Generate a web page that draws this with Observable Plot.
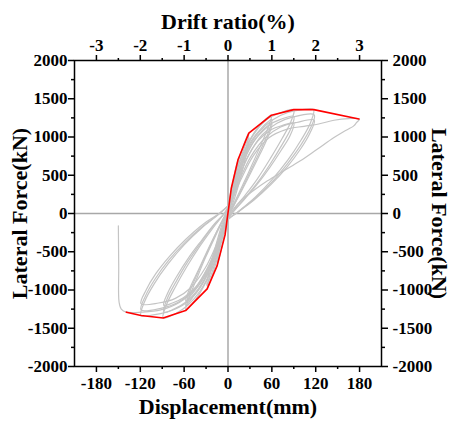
<!DOCTYPE html>
<html>
<head>
<meta charset="utf-8">
<script src="https://cdn.jsdelivr.net/npm/d3@7"></script>
<script src="https://cdn.jsdelivr.net/npm/@observablehq/plot@0.6"></script>
<style>
  html, body { margin: 0; padding: 0; background: #fff; }
</style>
</head>
<body>
<div id="chart"></div>
<script>
// Tick values / labels
const displacementTicks = [-180, -120, -60, 0, 60, 120, 180];
const displacementMinor = [-150, -90, -30, 30, 90, 150];
const driftTicks = [-3, -2, -1, 0, 1, 2, 3];
const mmPerPercent = 60;
const forceTicks = [-2000, -1500, -1000, -500, 0, 500, 1000, 1500, 2000];
const forceMinor = [-1750, -1250, -750, -250, 250, 750, 1250, 1750];
const titles = ["Drift ratio(%)", "Displacement(mm)", "Lateral Force(kN)"];

// Skeleton (envelope) curve
const skeletonDisp  = [-139, -119, -88.7, -58, -28.5, -14.8, -4, 4.5, 13.9, 28.5, 59.5, 89.9, 117.4, 179];
const skeletonForce = [-1290, -1334, -1365, -1269, -986, -682, -280, 330, 710, 1050, 1285, 1358, 1358, 1235];

// Hysteresis cycles [displacement mm, force kN]
const cycleA = [[0,0],[2,170],[4.5,330],[3,190],[0,20],[-2,-130],[-4,-280],[-2,-120],[0,0]];
const cycleB = [[0,0],[4,260],[9,520],[14,710],[11,500],[6,230],[1,0],[-4,-220],[-9,-460],[-15,-680],[-12,-470],[-6,-190],[0,20]];
const cycleC = [[0,20],[5,290],[12,600],[20,860],[28.5,1050],[25,860],[17,530],[8,220],[0,-30],[-7,-300],[-15,-600],[-22,-820],[-28.5,-986],[-25,-800],[-16,-450],[-7,-150],[0,40]];
const cycleD = [[0,40],[6,300],[14,620],[22,850],[29,990],[26,820],[18,500],[9,200],[0,-40],[-8,-300],[-16,-590],[-23,-800],[-29,-940],[-26,-760],[-17,-430],[-8,-140],[0,40]];
const cycleE = [[0,40],[6,330],[15,650],[28,930],[42,1140],[59.5,1285],[56,1150],[46,920],[33,640],[19,350],[6,90],[-2,-60],[-9,-330],[-19,-650],[-32,-930],[-44,-1120],[-58,-1269],[-54,-1120],[-44,-880],[-31,-580],[-17,-290],[-5,-50],[2,90]];
const cycleF = [[2,90],[9,380],[19,690],[32,950],[46,1120],[60,1230],[56,1080],[45,840],[31,560],[17,280],[5,50],[-3,-90],[-11,-360],[-22,-660],[-35,-920],[-47,-1080],[-58,-1205],[-53,-1040],[-42,-790],[-28,-500],[-15,-230],[-4,-20],[3,110]];
const cycleG = [[3,110],[11,400],[22,700],[35,940],[48,1080],[60,1170],[55,1010],[44,780],[30,510],[16,250],[4,30],[-4,-110],[-13,-380],[-25,-680],[-38,-910],[-49,-1050],[-58,-1145],[-52,-970],[-40,-730],[-27,-460],[-14,-210],[-3,-10],[3,100]];
const cycleH = [[3,100],[10,420],[20,740],[35,1030],[52,1220],[70,1310],[90,1358],[86,1200],[74,980],[58,720],[40,450],[22,220],[7,40],[-2,-90],[-10,-380],[-22,-720],[-38,-1010],[-55,-1200],[-72,-1310],[-88.7,-1365],[-84,-1190],[-72,-960],[-56,-690],[-38,-420],[-20,-180],[-6,-10],[2,110]];
const cycleI = [[2,110],[11,400],[22,700],[38,980],[55,1150],[72,1230],[90,1270],[86,1110],[74,900],[58,650],[40,400],[22,190],[7,20],[-3,-110],[-12,-390],[-25,-720],[-41,-990],[-58,-1160],[-74,-1250],[-88,-1290],[-83,-1110],[-71,-890],[-55,-630],[-37,-380],[-19,-150],[-5,0],[3,120]];
const cycleJ = [[3,120],[13,410],[25,700],[41,950],[58,1090],[74,1150],[90,1180],[85,1020],[73,830],[57,600],[39,370],[21,170],[6,10],[-4,-120],[-14,-400],[-28,-710],[-44,-960],[-61,-1100],[-76,-1170],[-88,-1200],[-82,-1030],[-70,-820],[-54,-580],[-36,-350],[-18,-130],[-4,10],[3,120]];
const cycleK = [[3,120],[12,450],[24,780],[42,1060],[62,1230],[82,1320],[100,1355],[117,1358],[113,1190],[100,960],[82,700],[60,440],[38,220],[16,40],[0,-80],[-10,-360],[-24,-720],[-42,-1020],[-62,-1200],[-84,-1290],[-102,-1325],[-119,-1334],[-114,-1150],[-101,-920],[-82,-660],[-60,-410],[-36,-190],[-14,-20],[2,120]];
const cycleL = [[2,120],[14,440],[28,760],[47,1030],[67,1180],[88,1260],[118,1290],[113,1120],[100,900],[82,660],[60,410],[37,200],[15,30],[-2,-100],[-13,-380],[-28,-720],[-47,-1000],[-68,-1160],[-92,-1240],[-119,-1260],[-113,-1080],[-100,-860],[-81,-610],[-59,-380],[-35,-170],[-13,-10],[3,120]];
const cycleM = [[3,120],[16,440],[31,740],[51,990],[72,1130],[94,1190],[118,1220],[112,1050],[99,840],[81,610],[59,380],[36,180],[14,20],[-3,-110],[-15,-390],[-31,-710],[-51,-970],[-72,-1110],[-95,-1170],[-119,-1180],[-112,-1000],[-99,-790],[-80,-560],[-58,-340],[-34,-140],[-12,0],[3,120]];
const cycleN = [[3,120],[18,450],[35,760],[56,990],[80,1100],[104,1140],[124,1170],[145,1219],[165,1240],[180,1235],[176,1190],[172,1145],[158,1070],[145,993],[122,840],[99,688],[76,555],[54,427],[35,300],[17,166],[3,-7],[-8,-300],[-22,-650],[-42,-960],[-66,-1160],[-92,-1260],[-118,-1290],[-139,-1290],[-146,-1250],[-149,-1160],[-149.5,-700],[-150,-160]];

const cycles = {A: cycleA, B: cycleB, C: cycleC, D: cycleD, E: cycleE, F: cycleF, G: cycleG,
                H: cycleH, I: cycleI, J: cycleJ, K: cycleK, L: cycleL, M: cycleM, N: cycleN};

const rows = [];
for (const [name, pts] of Object.entries(cycles)) {
  for (const [d, f] of pts) rows.push({d, f, c: name});
}
const skeleton = skeletonDisp.map((d, i) => ({d, f: skeletonForce[i]}));

const font = "'Liberation Serif', 'Times New Roman', serif";
const titleFont = {fontSize: 22, fontWeight: "bold", fontFamily: font, fill: "black"};
const tickFont = {fontSize: 17, fontWeight: "bold", fontFamily: font, fill: "black"};
const noLabel = () => "";

const chart = Plot.plot({
  width: 452,
  height: 421,
  marginLeft: 74,
  marginRight: 71,
  marginTop: 60,
  marginBottom: 55,
  x: {domain: [-210, 210]},
  y: {domain: [-2000, 2000]},
  style: {fontFamily: font, color: "black", background: "white"},
  marks: [
    Plot.ruleY([0], {stroke: "#a8a8a8", strokeWidth: 1.5}),
    Plot.ruleX([0], {stroke: "#a8a8a8", strokeWidth: 1.5}),
    Plot.line(rows, {x: "d", y: "f", z: "c", stroke: "#c4c4c4", strokeWidth: 1.2, curve: "catmull-rom"}),
    Plot.line(skeleton, {x: "d", y: "f", stroke: "#ff0000", strokeWidth: 1.6}),
    Plot.frame({stroke: "black", strokeWidth: 1.5}),
    // tick marks (major + minor) on all four sides
    Plot.axisX({anchor: "bottom", ticks: displacementTicks, tickSize: 6, strokeWidth: 1.5, tickFormat: noLabel, label: null}),
    Plot.axisX({anchor: "bottom", ticks: displacementMinor, tickSize: 3, strokeWidth: 1.5, tickFormat: noLabel, label: null}),
    Plot.axisX({anchor: "top", ticks: driftTicks.map(p => p * mmPerPercent), tickSize: 6, strokeWidth: 1.5, tickFormat: noLabel, label: null}),
    Plot.axisX({anchor: "top", ticks: displacementMinor, tickSize: 3, strokeWidth: 1.5, tickFormat: noLabel, label: null}),
    Plot.axisY({anchor: "left", ticks: forceTicks, tickSize: 6, strokeWidth: 1.5, tickFormat: noLabel, label: null}),
    Plot.axisY({anchor: "left", ticks: forceMinor, tickSize: 3, strokeWidth: 1.5, tickFormat: noLabel, label: null}),
    Plot.axisY({anchor: "right", ticks: forceTicks, tickSize: 6, strokeWidth: 1.5, tickFormat: noLabel, label: null}),
    Plot.axisY({anchor: "right", ticks: forceMinor, tickSize: 3, strokeWidth: 1.5, tickFormat: noLabel, label: null}),
    // tick labels
    Plot.text(displacementTicks, {x: d => d, text: d => String(d), frameAnchor: "bottom", dy: 10, textAnchor: "middle", lineAnchor: "top", ...tickFont}),
    Plot.text(driftTicks, {x: p => p * mmPerPercent, text: p => String(p), frameAnchor: "top", dy: -10, textAnchor: "middle", lineAnchor: "bottom", ...tickFont}),
    Plot.text(forceTicks, {y: d => d, text: d => String(d), frameAnchor: "left", dx: -7, textAnchor: "end", lineAnchor: "middle", ...tickFont}),
    Plot.text(forceTicks, {y: d => d, text: d => String(d), frameAnchor: "right", dx: 11, textAnchor: "start", lineAnchor: "middle", ...tickFont}),
    // axis titles
    Plot.text([titles[0]], {frameAnchor: "top", dy: -39, textAnchor: "middle", lineAnchor: "middle", ...titleFont}),
    Plot.text([titles[1]], {frameAnchor: "bottom", dy: 40, textAnchor: "middle", lineAnchor: "middle", ...titleFont}),
    Plot.text([titles[2]], {frameAnchor: "left", dx: -55, rotate: -90, textAnchor: "middle", lineAnchor: "middle", ...titleFont}),
    Plot.text([titles[2]], {frameAnchor: "right", dx: 58, rotate: 90, textAnchor: "middle", lineAnchor: "middle", ...titleFont})
  ]
});
document.getElementById("chart").appendChild(chart);
</script>
</body>
</html>
